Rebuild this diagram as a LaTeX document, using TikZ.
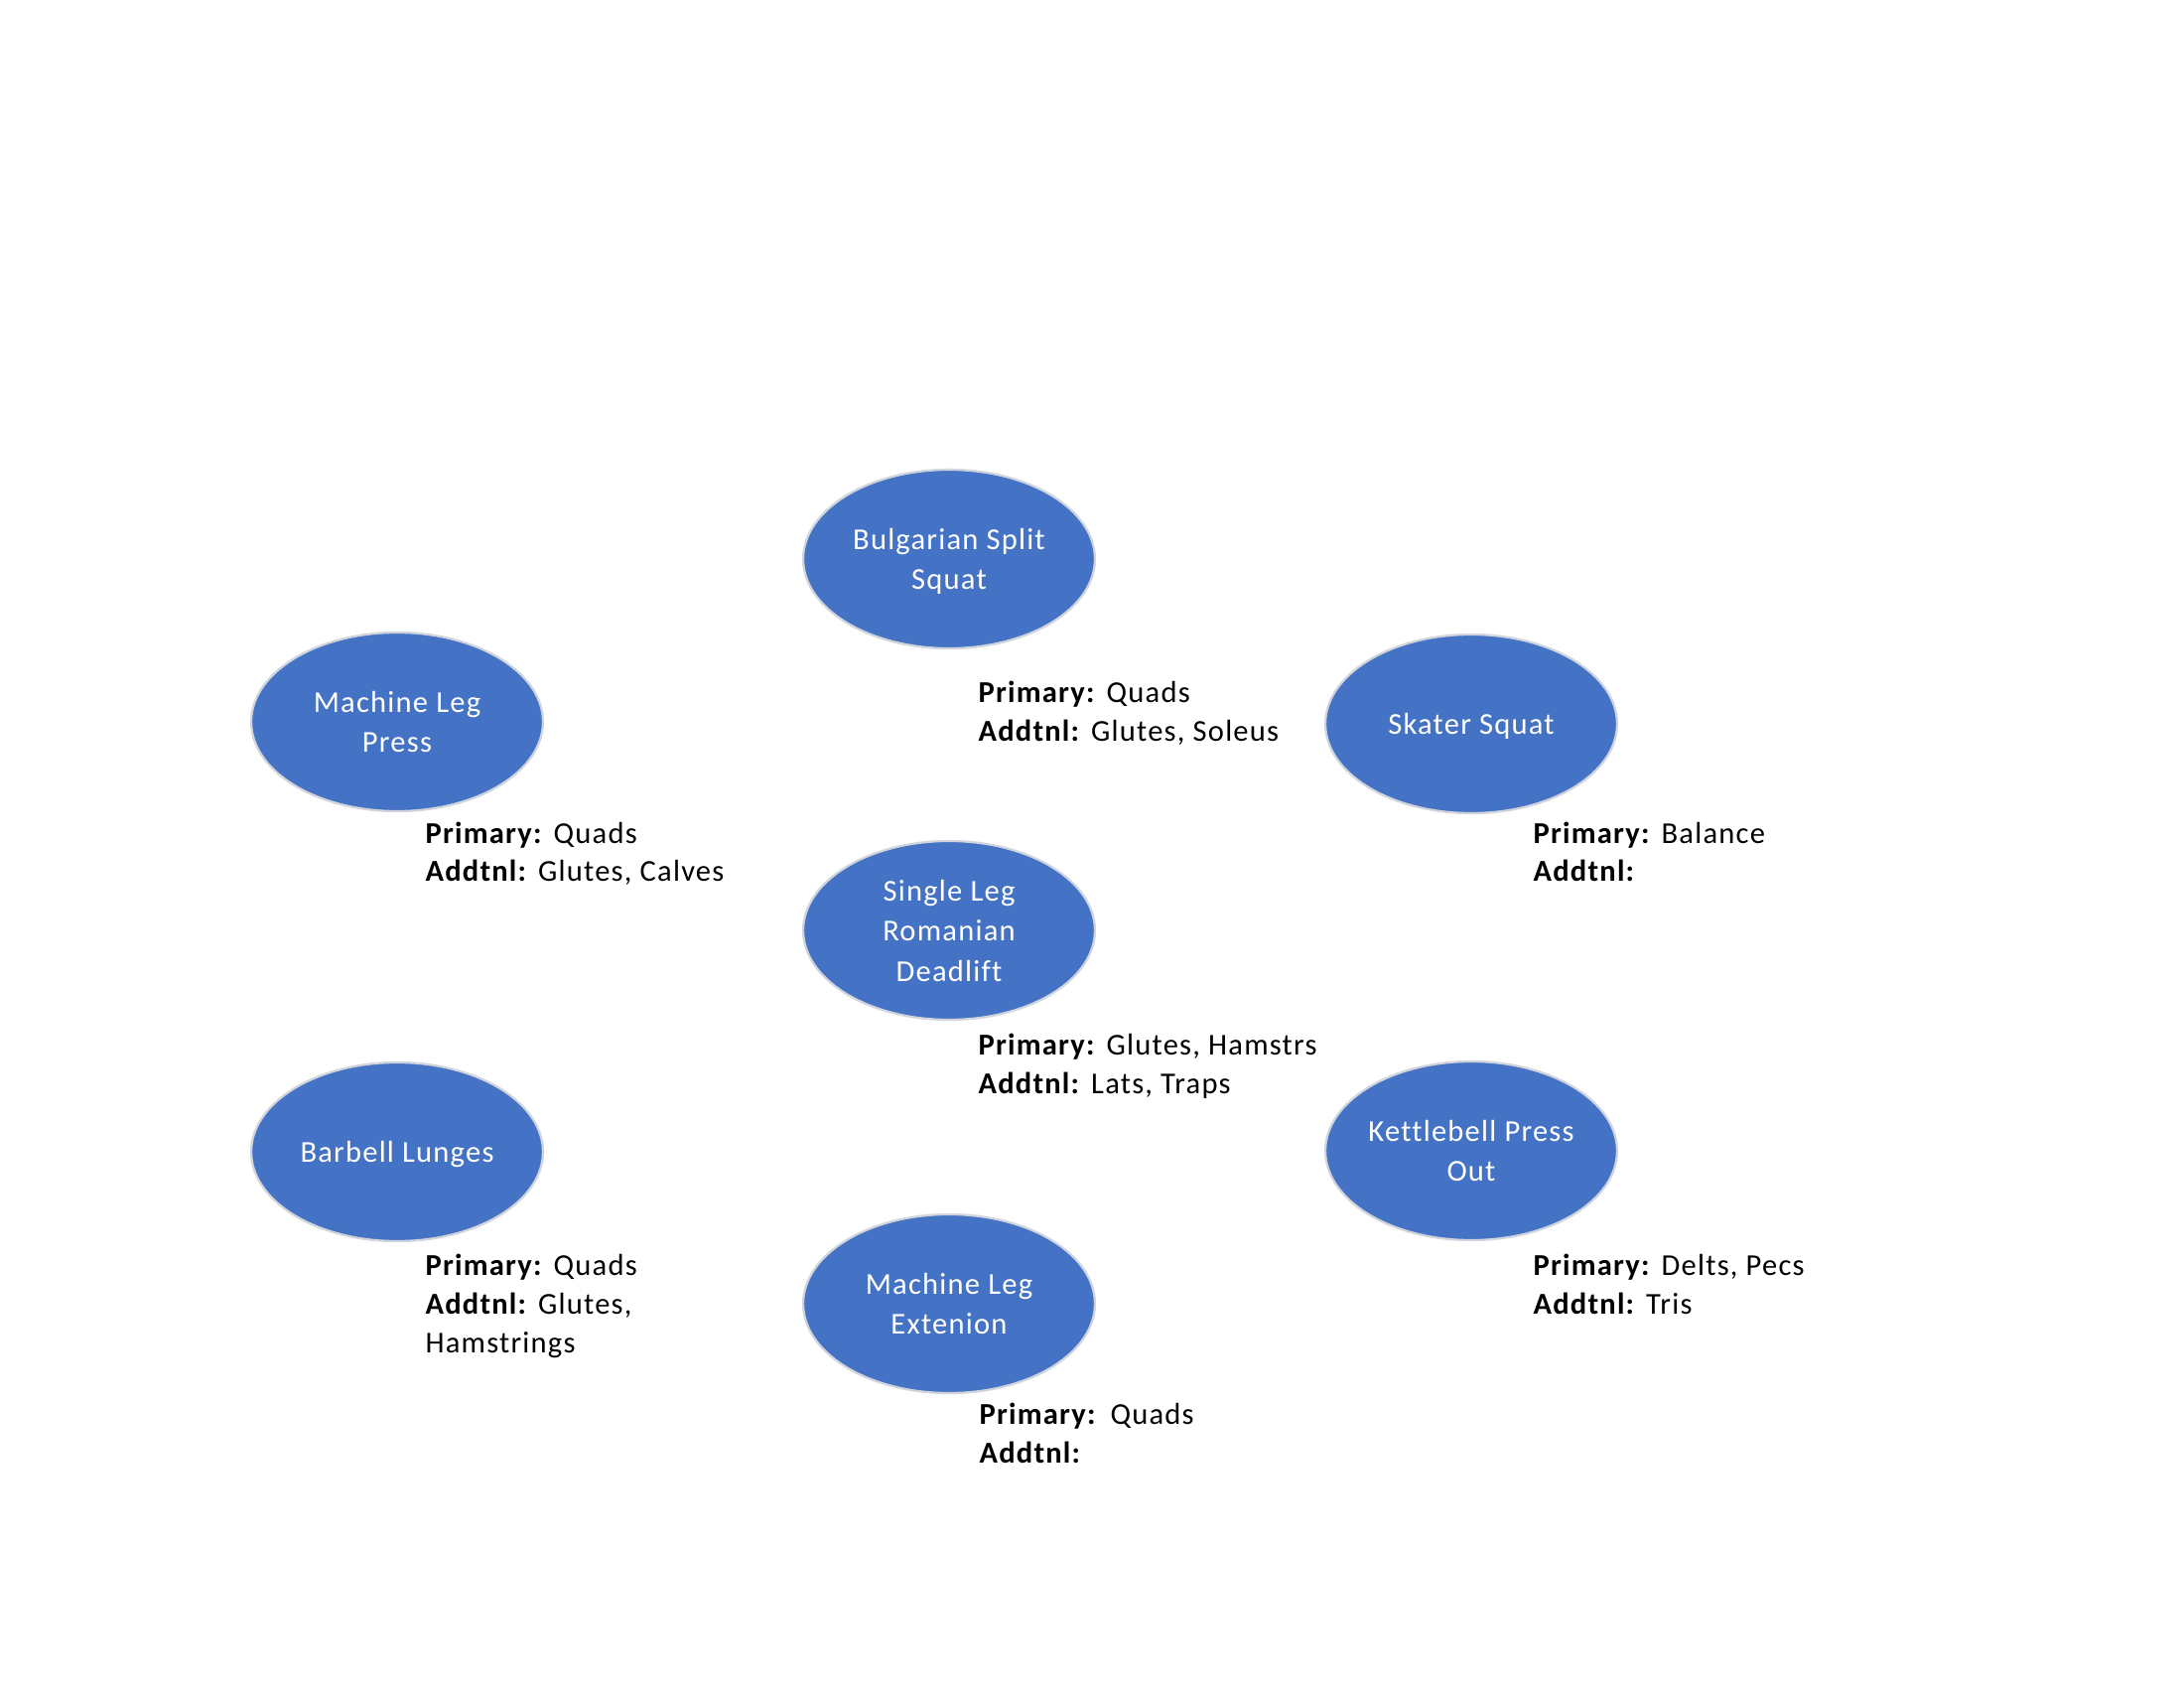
\documentclass[tikz,border=0pt]{standalone}
\usepackage{fontspec}
\setmainfont{Carlito}[LetterSpace=4, Ligatures=NoCommon]
\usetikzlibrary{shapes.geometric}
\definecolor{ofblue}{HTML}{4472C4}
\definecolor{rimgrey}{HTML}{D0D4DC}
\begin{document}
\begin{tikzpicture}[x=0.36pt,y=-0.36pt,
  exbox/.style={ellipse, fill=ofblue, draw=rimgrey, line width=0.8pt,
    minimum width=105.8pt, minimum height=64.8pt, inner sep=0pt, text depth=0pt,
    text=white, align=center, font=\fontsize{11pt}{14.6pt}\selectfont},
  note/.style={anchor=base west, inner sep=0pt, font=\fontsize{11pt}{14pt}\selectfont}]
\path[use as bounding box, fill=white] (0,0) rectangle (2200,1700);

% exercise ellipses
\node[exbox] (bss) at (956,563)  {Bulgarian Split\\Squat};
\node[exbox] (mlp) at (400,727)  {Machine Leg\\Press};
\node[exbox] (sks) at (1482,729) {Skater Squat};
\node[exbox] (sld) at (956,937)  {Single Leg\\Romanian\\Deadlift};
\node[exbox] (bbl) at (400,1160) {Barbell Lunges};
\node[exbox] (kpo) at (1482,1159){Kettlebell Press\\Out};
\node[exbox] (mle) at (956,1313) {Machine Leg\\Extenion};

% muscle notes
\node[note] (bssP) at (985,708)  {\textbf{Primary:} Quads};
\node[note] (bssA) at (985,747)  {\textbf{Addtnl:} Glutes, Soleus};

\node[note] (mlpP) at (428,849)  {\textbf{Primary:} Quads};
\node[note] (mlpA) at (428,888)  {\textbf{Addtnl:} Glutes, Calves};

\node[note] (sksP) at (1544,849) {\textbf{Primary:} Balance};
\node[note] (sksA) at (1544,888) {\textbf{Addtnl:}};

\node[note] (sldP) at (985,1062) {\textbf{Primary:} Glutes, Hamstrs};
\node[note] (sldA) at (985,1101) {\textbf{Addtnl:} Lats, Traps};

\node[note] (bblP) at (428,1284) {\textbf{Primary:} Quads};
\node[note] (bblA) at (428,1323) {\textbf{Addtnl:} Glutes,};
\node[note] (bblH) at (428,1362) {Hamstrings};

\node[note] (kpoP) at (1544,1284) {\textbf{Primary:} Delts, Pecs};
\node[note] (kpoA) at (1544,1323) {\textbf{Addtnl:} Tris};

\node[note] (mleP) at (986,1434) {\textbf{Primary:}\hspace{0.45em}Quads};
\node[note] (mleA) at (986,1473) {\textbf{Addtnl:}};
\end{tikzpicture}
\end{document}
